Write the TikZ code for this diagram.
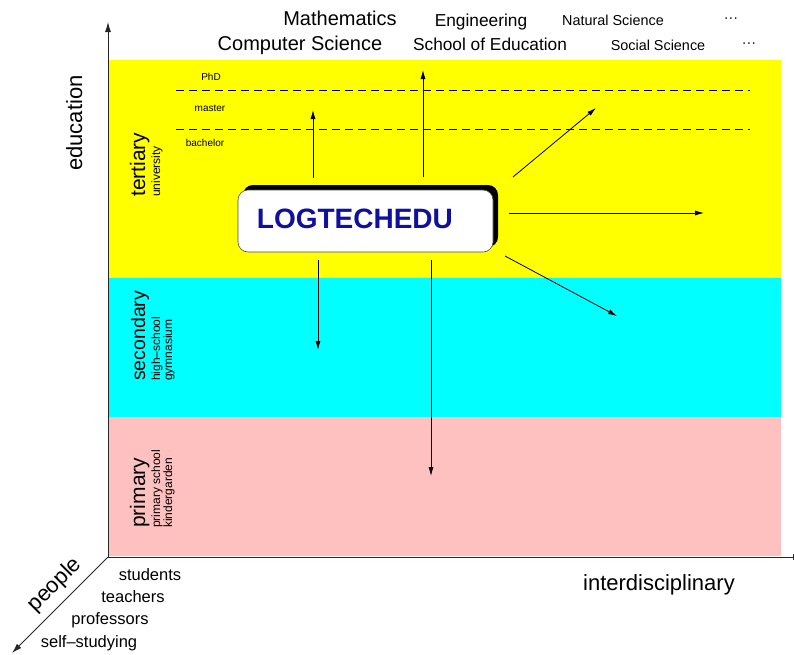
\documentclass[tikz,border=0pt]{standalone}
\usepackage{fontspec}
\setmainfont{Liberation Sans}
\usetikzlibrary{arrows.meta,shadows}

\definecolor{tertiarycol}{RGB}{255,255,0}
\definecolor{secondarycol}{RGB}{0,255,255}
\definecolor{primarycol}{RGB}{255,192,192}
\definecolor{logoblue}{RGB}{16,16,160}

\tikzset{
  axis/.style={line width=0.9pt, draw=black!85, -{Latex[length=10pt,width=6pt]}},
  flow/.style={line width=0.8pt, -{Latex[length=9pt,width=5pt]}},
  degree/.style={line width=0.8pt, dash pattern=on 8pt off 5pt},
  degreelab/.style={inner sep=0pt, font=\fontsize{10}{12}\selectfont},
  axislab/.style={inner sep=0pt, font=\fontsize{22}{26}\selectfont},
  fieldbig/.style={inner sep=0pt, font=\fontsize{20}{24}\selectfont},
  fieldmid/.style={inner sep=0pt, font=\fontsize{17.3}{20}\selectfont},
  fieldsmall/.style={inner sep=0pt, font=\fontsize{14.4}{17}\selectfont},
  levelbig/.style={inner sep=0pt, rotate=90, anchor=base west, font=\fontsize{21}{24}\selectfont},
  levelsmall/.style={inner sep=0pt, rotate=90, anchor=base west, font=\fontsize{12}{14}\selectfont},
  peoplelab/.style={inner sep=0pt, anchor=base, font=\fontsize{16.5}{19}\selectfont},
  logobox/.style={draw=black!70, line width=0.6pt, fill=white, rounded corners=10pt,
    minimum width=255pt, minimum height=62pt, inner sep=0pt,
    drop shadow={shadow xshift=5pt, shadow yshift=5pt, opacity=1, fill=black}},
  logotext/.style={inner sep=0pt, text=logoblue, font=\fontsize{28}{32}\selectfont\bfseries}
}

\begin{document}
\begin{tikzpicture}[x=1pt,y=-1pt]
   \useasboundingbox (0,0) rectangle (794,654);
   % Education levels
   \fill[tertiarycol] (108,60) rectangle (781,278);
   \fill[secondarycol] (108,278) rectangle (781,417);
   \fill[primarycol] (108,417) rectangle (781,556);
   % Degrees
   \draw[degree] (176,90) -- (750,90);
   \draw[degree] (176,129) -- (750,129);
   \node[degreelab] (phd) at (211,77) {PhD};
   \node[degreelab] (master) at (210,108) {master};
   \node[degreelab] (bachelor) at (205,143) {bachelor};
   % Coordinate system axis
   \coordinate (origin) at (108,557);
   \coordinate (eduend) at (108,22);
   \coordinate (interend) at (803,557);
   \coordinate (peopleend) at (12,653);
   \draw[axis] (origin) -- (eduend);
   \draw[axis] (origin) -- (interend);
   \draw[axis] (origin) -- (peopleend);
   \node[axislab, rotate=90, anchor=base] (education) at (82,123) {education};
   \node[axislab, rotate=45] (people) at (55,585) {people};
   \node[axislab, anchor=base] (interdisc) at (659,590) {interdisciplinary};
   % Levels
   \node[levelbig] (tertiary) at (145,197) {tertiary};
   \node[levelsmall] (university) at (160,197) {university};
   \node[levelbig, font=\fontsize{19.5}{22}\selectfont] (secondary) at (145,381) {secondary};
   \node[levelsmall] (highschool) at (160,381) {high--school};
   \node[levelsmall] (gymnasium) at (172,381) {gymnasium};
   \node[levelbig] (primary) at (145,528) {primary};
   \node[levelsmall] (primschool) at (160,528) {primary school};
   \node[levelsmall] (kindergarden) at (172,528) {kindergarden};
   % Fields
   \node[fieldbig, anchor=base] (math) at (340,25) {Mathematics};
   \node[fieldbig, anchor=base] (compsci) at (300,50) {Computer Science};
   \node[fieldmid, anchor=base] (engin) at (481,26) {Engineering};
   \node[fieldmid, anchor=base] (schooledu) at (490,50) {School of Education};
   \node[fieldsmall, anchor=base] (natsci) at (613,25) {Natural Science};
   \node[fieldsmall, anchor=base] (socsci) at (658,50) {Social Science};
   \node[fieldsmall] (morefirst) at (731,20) {···};
   \node[fieldsmall] (moresecond) at (749,45) {···};
   % People
   \node[peoplelab] (students) at (150,580) {students};
   \node[peoplelab] (teachers) at (133,602) {teachers};
   \node[peoplelab] (professors) at (110,624) {professors};
   \node[peoplelab] (selfstudy) at (89,647) {self--studying};
   % Project box
   \node[logobox] (box) at (365.5,221) {};
   \node[logotext, anchor=west] (logo) at ([xshift=19pt,yshift=2.5pt]box.west) {LOGTECHEDU};
   % Directions
   \coordinate (masterfrom) at (313,178);
   \coordinate (masterto) at (313,110);
   \coordinate (topfrom) at (423,177);
   \coordinate (topto) at (423,70);
   \coordinate (diagupfrom) at (513,177);
   \coordinate (diagupto) at (596,108);
   \coordinate (rightfrom) at (509,213);
   \coordinate (rightto) at (704,213);
   \coordinate (diagdownfrom) at (505,256);
   \coordinate (diagdownto) at (617,316);
   \coordinate (secfrom) at (318,260);
   \coordinate (secto) at (318,350);
   \coordinate (primfrom) at (431,260);
   \coordinate (primto) at (431,476);
   \draw[flow] (masterfrom) -- (masterto);
   \draw[flow] (topfrom) -- (topto);
   \draw[flow] (diagupfrom) -- (diagupto);
   \draw[flow] (rightfrom) -- (rightto);
   \draw[flow] (diagdownfrom) -- (diagdownto);
   \draw[flow] (secfrom) -- (secto);
   \draw[flow] (primfrom) -- (primto);
\end{tikzpicture}
\end{document}
